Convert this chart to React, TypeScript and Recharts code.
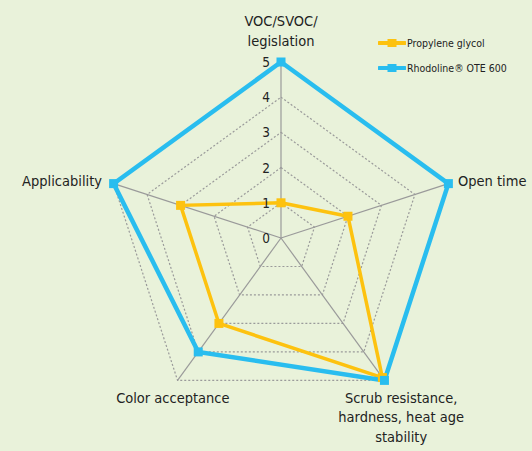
import React from "react";
import {
  RadarChart, Radar, PolarGrid, PolarAngleAxis, PolarRadiusAxis, Legend,
} from "recharts";

const criteria = [
  "VOC/SVOC/\nlegislation",
  "Open time",
  "Scrub resistance,\nhardness, heat age\nstability",
  "Color acceptance",
  "Applicability",
];
const propyleneGlycol = [1, 2, 4.9, 3, 3];
const rhodoline = [5, 5, 5, 4, 5];
const scoreTicks = [0, 1, 2, 3, 4, 5];

const seriesInfo = [
  { key: "pg", name: "Propylene glycol", color: "#fdc20f", width: 3.5 },
  { key: "rh", name: "Rhodoline® OTE 600", color: "#29bdef", width: 4.5 },
];

const data = criteria.map((c, i) => ({ criterion: c, pg: propyleneGlycol[i], rh: rhodoline[i] }));

const CX = 281;
const CY = 238;
const FONT = "'Liberation Sans Narrow', 'DejaVu Sans Condensed', 'Open Sans', sans-serif";

function AngleTick({ x, y, payload, textAnchor }: any) {
  const lines = String(payload.value).split("\n");
  let anchor = textAnchor;
  let tx = x;
  let ty = y;
  if (y < CY - 100) {
    anchor = "middle";
    ty = y - 9 - (lines.length - 1) * 19;
  } else if (y > CY + 100) {
    tx = textAnchor === "start" ? x + 12 : x;
    anchor = "middle";
    ty = y + 16;
  } else {
    tx = textAnchor === "start" ? x + 2 : x - 4;
    ty = y + 5;
  }
  return (
    <text x={tx} y={ty} textAnchor={anchor} fill="#222" fontSize={14.5} fontFamily={FONT}>
      {lines.map((l, i) => (
        <tspan key={i} x={tx} dy={i === 0 ? 0 : 19.5}>{l}</tspan>
      ))}
    </text>
  );
}

function RadiusTick({ x, y, payload }: any) {
  return (
    <text x={x - 11} y={y + 5} textAnchor="end" fill="#222" fontSize={13.5} fontFamily={FONT}>
      {payload.value}
    </text>
  );
}

function SquareDot(color: string) {
  return (props: any) => (
    <rect key={props.index} x={props.cx - 4.5} y={props.cy - 4.5} width={9} height={9} fill={color} />
  );
}

function LegendBox() {
  return (
    <div style={{ fontFamily: FONT, fontSize: 10.5, color: "#222" }}>
      {seriesInfo.map((s) => (
        <div key={s.key} style={{ display: "flex", alignItems: "center", height: 25 }}>
          <svg width={28} height={10} style={{ marginRight: 1 }}>
            <line x1={1} y1={5} x2={27} y2={5} stroke={s.color} strokeWidth={4} strokeLinecap="round" />
            <rect x={9.5} y={1} width={9} height={8} fill={s.color} />
          </svg>
          <span>{s.name}</span>
        </div>
      ))}
    </div>
  );
}

export default function App() {
  return (
    <div style={{ width: 532, height: 451, background: "#e9f2da", position: "relative" }}>
      <style>{"body{margin:0}"}</style>
      <RadarChart
        width={532}
        height={451}
        data={data}
        cx={CX}
        cy={CY}
        outerRadius={176}
        margin={{ top: 0, right: 0, bottom: 0, left: 0 }}
      >
        <PolarGrid gridType="polygon" radialLines={false} stroke="#9a9a9a" strokeDasharray="2 2" strokeWidth={1.2} />
        <PolarGrid gridType="polygon" polarRadius={[0]} stroke="#9a9a9a" strokeWidth={1.2} />
        <PolarAngleAxis dataKey="criterion" tick={<AngleTick />} axisLine={false} tickLine={false} />
        <PolarRadiusAxis
          angle={90}
          domain={[0, 5]}
          ticks={scoreTicks as any}
          tickCount={6}
          axisLine={false}
          tick={<RadiusTick />}
        />
        {seriesInfo.map((s) => (
          <Radar
            key={s.key}
            dataKey={s.key}
            name={s.name}
            stroke={s.color}
            strokeWidth={s.width}
            fill="none"
            fillOpacity={0}
            dot={SquareDot(s.color)}
            isAnimationActive={false}
          />
        ))}
        <Legend
          content={<LegendBox />}
          wrapperStyle={{ position: "absolute", top: 30, left: 378, width: 150 }}
        />
      </RadarChart>
    </div>
  );
}
